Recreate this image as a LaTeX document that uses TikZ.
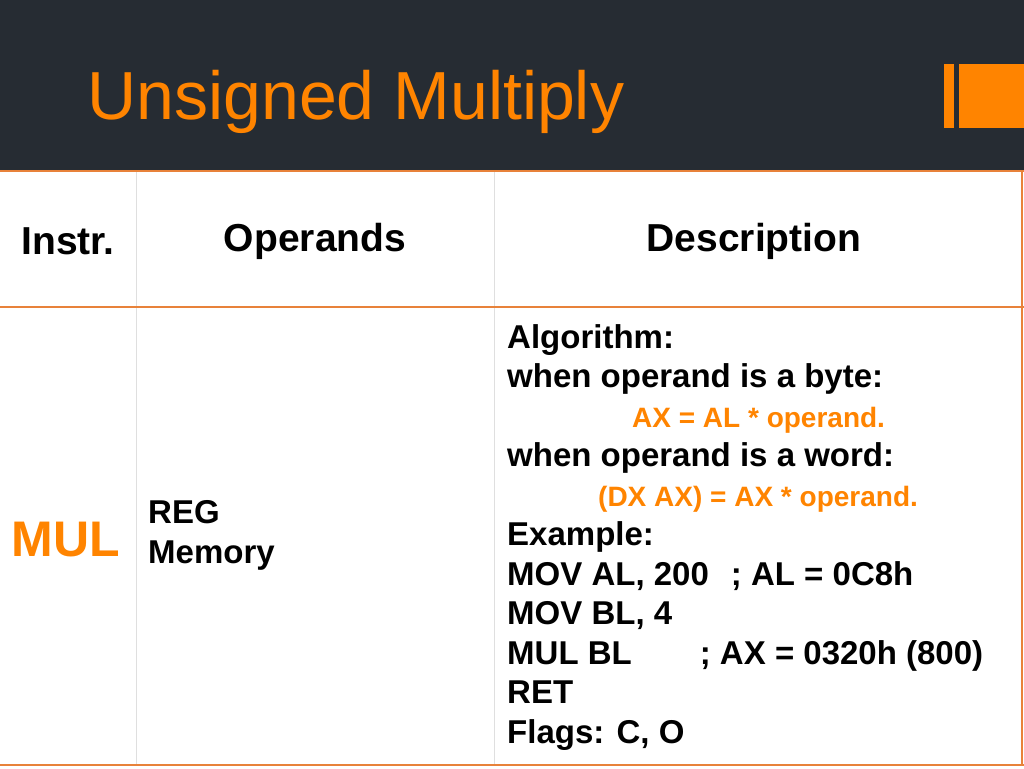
\documentclass[tikz,border=0pt]{standalone}
\usepackage{fontspec}
\setmainfont{Liberation Sans}
\usetikzlibrary{positioning}
\definecolor{slate}{HTML}{262C33}
\definecolor{accent}{HTML}{FF8400}
\definecolor{rule}{HTML}{E8823A}
\tikzset{
  head/.style={font=\fontsize{39}{44}\selectfont\bfseries, anchor=center},
  desc/.style={font=\fontsize{33}{39.5}\selectfont\bfseries, anchor=north west, align=left, inner sep=0pt},
}
\begin{document}
\begin{tikzpicture}[x=1pt,y=-1pt]
    \useasboundingbox (0,0) rectangle (1024,768);
    \fill[white] (0,0) rectangle (1024,768);
    \fill[slate] (0,0) rectangle (1024,171);  %Kopfleiste
    \fill[accent] (944,64) rectangle (954,128);
    \fill[accent] (959,64) rectangle (1024,128);
    \node[anchor=west, text=accent, font=\fontsize{68}{74}\selectfont] (title) at (84,102) {Unsigned Multiply};
    \draw[gray!25] (136,171) -- (136,765);  %Spalten
    \draw[gray!25] (494,171) -- (494,765);
    \draw[rule, line width=1.2pt] (0,171) -- (1024,171);  %Zeilen
    \draw[rule, line width=1.2pt] (0,307) -- (1024,307);
    \draw[rule, line width=1.2pt] (0,765) -- (1024,765);
    \draw[rule, line width=1.2pt] (1022,171) -- (1022,765);
    \node[head] (instr) at (68,241) {Instr.};
    \node[head] (oper) at (315,241) {Operands};
    \node[head] (descr) at (754,241) {Description};
    \node[text=accent, font=\fontsize{50}{56}\selectfont\bfseries] (mul) at (66,540) {MUL};
    \node[desc, font=\fontsize{33}{40}\selectfont\bfseries] (ops) at (148,500) {REG\\Memory};
    \node[desc] (algo) at (507,324) {Algorithm:\\
      when operand is a byte:\\
      \hspace*{125pt}{\color{accent}\fontsize{28}{30}\selectfont AX = AL * operand.}\\
      when operand is a word:\\
      \hspace*{91pt}{\color{accent}\fontsize{28}{30}\selectfont (DX AX) = AX * operand.}\\
      Example:\\
      MOV AL, 200\hspace*{22pt}; AL = 0C8h\\
      MOV BL, 4\\
      MUL BL\hspace*{68pt}; AX = 0320h (800)\\
      RET\\
      Flags: C, O};
\end{tikzpicture}
\end{document}
